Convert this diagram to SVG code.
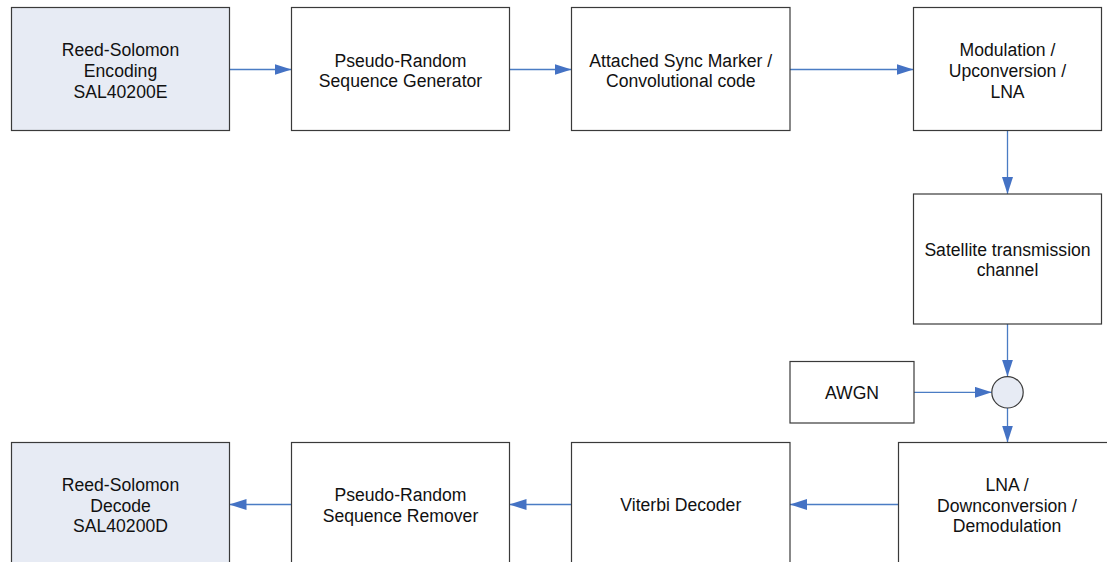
<svg xmlns="http://www.w3.org/2000/svg" width="1107" height="562" viewBox="0 0 1107 562">
<style>
.box{fill:#ffffff;stroke:#3a3a3a;stroke-width:1.2}
.rs{fill:#E7EBF4}
.t{font-family:"Liberation Sans",Arial,sans-serif;font-size:17.6px;fill:#111;text-anchor:middle}
.c{fill:none;stroke:#4A7CC4;stroke-width:1.3;marker-end:url(#ah)}
</style>
<defs>
<marker id="ah" markerUnits="userSpaceOnUse" markerWidth="17" markerHeight="11" refX="17" refY="5.5" orient="auto">
<path d="M0,0 L17,5.5 L0,11 Z" fill="#4472C4"/>
</marker>
</defs>
<rect width="1107" height="562" fill="#ffffff"/>
<g id="connectors">
<path class="c" d="M229.5,69.5 H291.5"/>
<path class="c" d="M509.5,69.5 H571.5"/>
<path class="c" d="M790,69.5 H913.5"/>
<path class="c" d="M1007.5,130.5 V194"/>
<path class="c" d="M1007.5,324 V376.6"/>
<path class="c" d="M914,392.3 H991.8"/>
<path class="c" d="M1007.5,408 V442.5"/>
<path class="c" d="M898.5,504.5 H790"/>
<path class="c" d="M571.5,504.5 H509.5"/>
<path class="c" d="M291.5,504.5 H229.5"/>
</g>
<g id="rs-encoding">
<rect class="box rs" x="11.5" y="7.5" width="218" height="123"/>
<text class="t" x="120.5" y="56">Reed-Solomon</text>
<text class="t" x="120.5" y="76.8">Encoding</text>
<text class="t" x="120.5" y="97.6">SAL40200E</text>
</g>
<g id="prs-generator">
<rect class="box" x="291.5" y="7.5" width="218" height="123"/>
<text class="t" x="400.5" y="66.6">Pseudo-Random</text>
<text class="t" x="400.5" y="87.4">Sequence Generator</text>
</g>
<g id="asm-conv">
<rect class="box" x="571.5" y="7.5" width="218.5" height="123"/>
<text class="t" x="680.8" y="66.6">Attached Sync Marker /</text>
<text class="t" x="680.8" y="87.4">Convolutional code</text>
</g>
<g id="modulation">
<rect class="box" x="913.5" y="7.5" width="188" height="123"/>
<text class="t" x="1007.5" y="56">Modulation /</text>
<text class="t" x="1007.5" y="76.8">Upconversion /</text>
<text class="t" x="1007.5" y="97.6">LNA</text>
</g>
<g id="satellite">
<rect class="box" x="913.5" y="194" width="188" height="130"/>
<text class="t" x="1007.5" y="255.6">Satellite transmission</text>
<text class="t" x="1007.5" y="276">channel</text>
</g>
<g id="awgn">
<rect class="box" x="790" y="361.5" width="124" height="61.5"/>
<text class="t" x="852" y="398.6">AWGN</text>
</g>
<g id="sum">
<circle cx="1007.5" cy="392.3" r="15.7" fill="#E7EBF4" stroke="#3a3a3a" stroke-width="1.2"/>
</g>
<g id="lna-demod">
<rect class="box" x="898.5" y="442.5" width="218" height="124"/>
<text class="t" x="1007" y="491">LNA /</text>
<text class="t" x="1007" y="511.6">Downconversion /</text>
<text class="t" x="1007" y="532.3">Demodulation</text>
</g>
<g id="viterbi">
<rect class="box" x="571.5" y="442.5" width="218.5" height="124"/>
<text class="t" x="680.8" y="511.3">Viterbi Decoder</text>
</g>
<g id="prs-remover">
<rect class="box" x="291.5" y="442.5" width="218" height="124"/>
<text class="t" x="400.5" y="500.8">Pseudo-Random</text>
<text class="t" x="400.5" y="521.6">Sequence Remover</text>
</g>
<g id="rs-decode">
<rect class="box rs" x="11.5" y="442.5" width="218" height="124"/>
<text class="t" x="120.5" y="491">Reed-Solomon</text>
<text class="t" x="120.5" y="511.6">Decode</text>
<text class="t" x="120.5" y="532.3">SAL40200D</text>
</g>
</svg>
